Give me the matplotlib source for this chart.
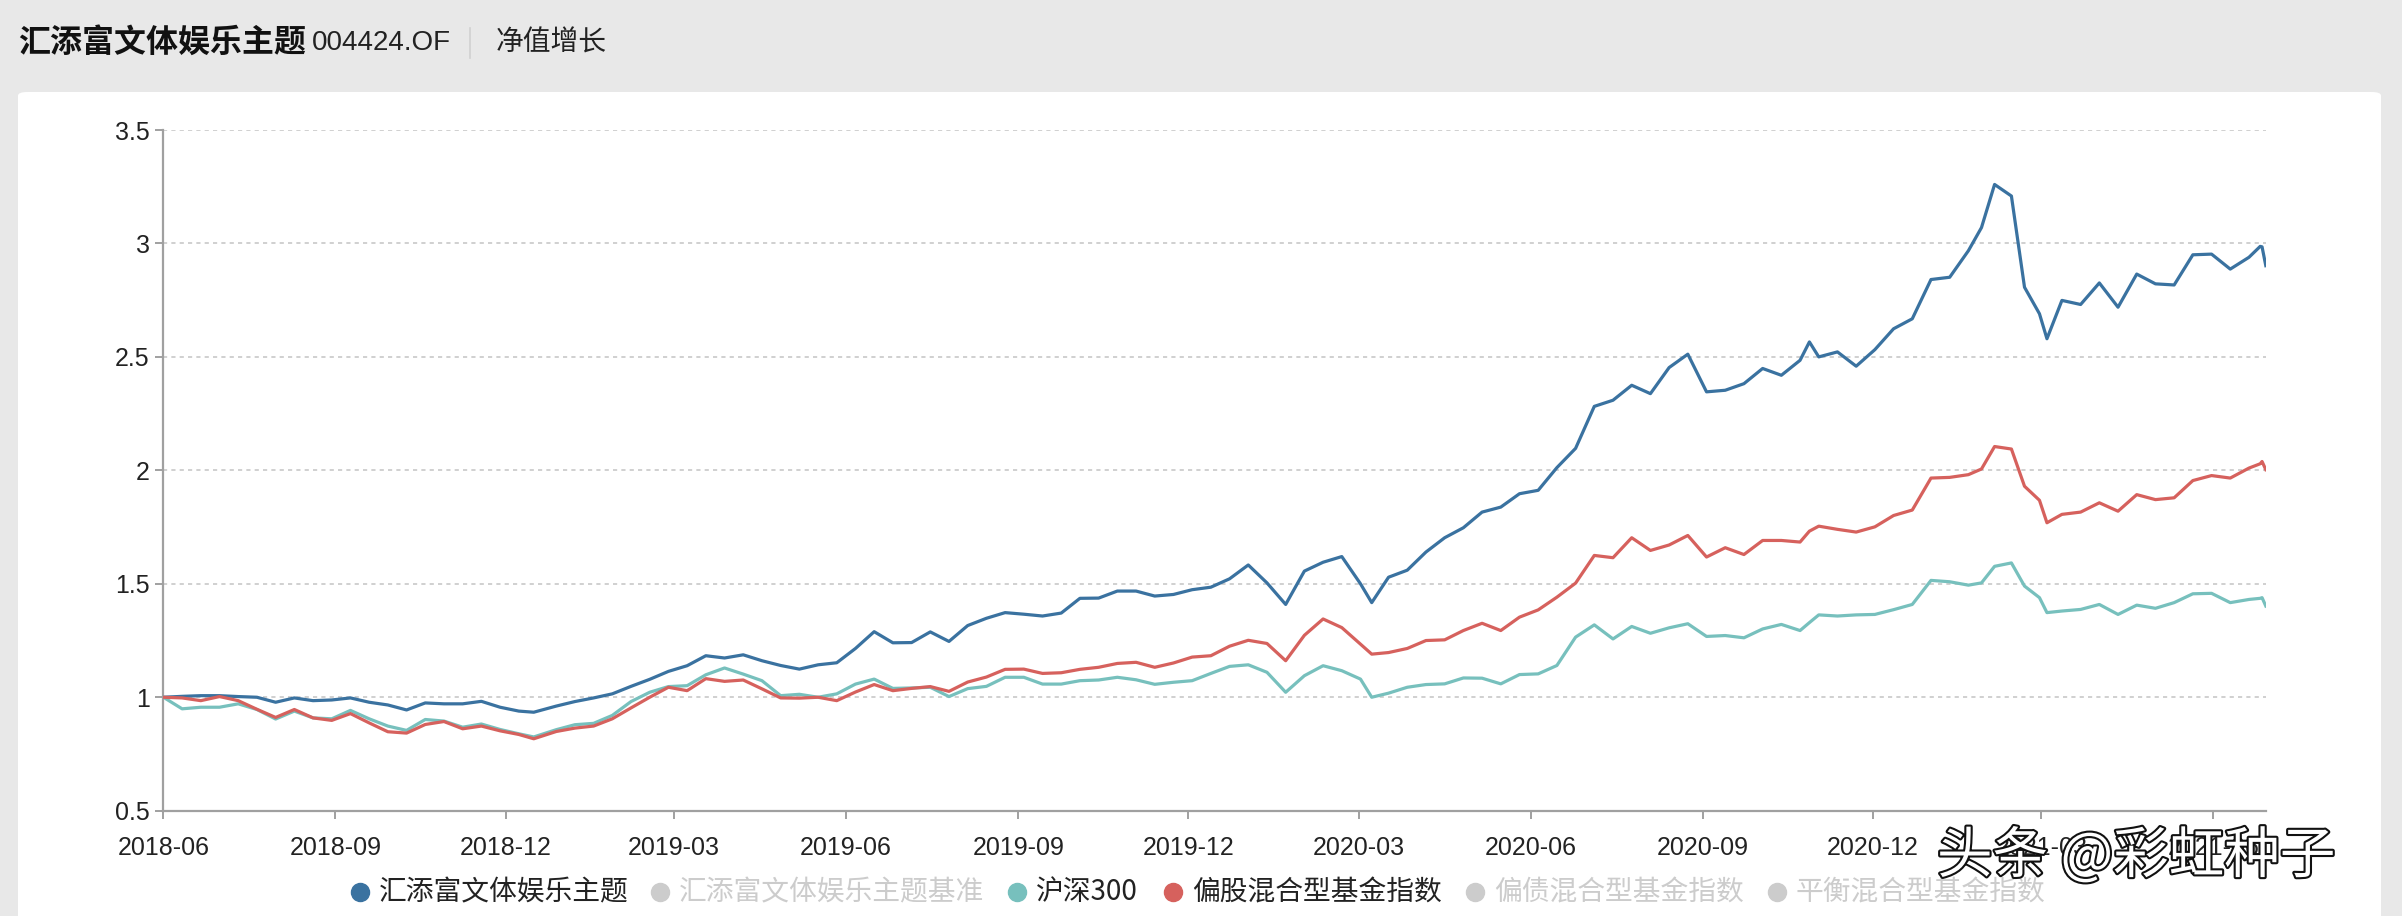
import matplotlib
matplotlib.use("Agg")
import matplotlib.pyplot as plt
import matplotlib.dates as mdates
import matplotlib.patheffects as pe
from matplotlib.patches import FancyBboxPatch
from matplotlib.lines import Line2D
import pandas as pd

plt.rcParams['font.family'] = ['Liberation Sans', 'Noto Sans CJK SC', 'DejaVu Sans']

# net value dates
dates = [
    '2018-06-01', '2018-06-11', '2018-06-21', '2018-07-01', '2018-07-11', '2018-07-21', '2018-07-31', '2018-08-10', '2018-08-20', '2018-08-30',
    '2018-09-09', '2018-09-19', '2018-09-29', '2018-10-09', '2018-10-19', '2018-10-29', '2018-11-08', '2018-11-18', '2018-11-28', '2018-12-08',
    '2018-12-16', '2018-12-28', '2019-01-07', '2019-01-17', '2019-01-27', '2019-02-06', '2019-02-16', '2019-02-26', '2019-03-08', '2019-03-18',
    '2019-03-28', '2019-04-07', '2019-04-17', '2019-04-27', '2019-05-07', '2019-05-17',
    '2019-05-27', '2019-06-06', '2019-06-16', '2019-06-26', '2019-07-06', '2019-07-16', '2019-07-26', '2019-08-05', '2019-08-15', '2019-08-25',
    '2019-09-04', '2019-09-14', '2019-09-24', '2019-10-04', '2019-10-14', '2019-10-24', '2019-11-03', '2019-11-13', '2019-11-23', '2019-12-03',
    '2019-12-13', '2019-12-23', '2020-01-02', '2020-01-12', '2020-01-22', '2020-02-01', '2020-02-11', '2020-02-21', '2020-03-02', '2020-03-08',
    '2020-03-17', '2020-03-27',
    '2020-04-06', '2020-04-16', '2020-04-26', '2020-05-06', '2020-05-16', '2020-05-26', '2020-06-05', '2020-06-15', '2020-06-25', '2020-07-05',
    '2020-07-15', '2020-07-25', '2020-08-04', '2020-08-14', '2020-08-24', '2020-09-03', '2020-09-13', '2020-09-23', '2020-10-03', '2020-10-13', '2020-10-23',
    '2020-10-28', '2020-11-02', '2020-11-12', '2020-11-22', '2020-12-02', '2020-12-12', '2020-12-22', '2021-01-01', '2021-01-11', '2021-01-21',
    '2021-01-28', '2021-02-04', '2021-02-13', '2021-02-20', '2021-02-28', '2021-03-04', '2021-03-12', '2021-03-22', '2021-04-01', '2021-04-11',
    '2021-04-21', '2021-05-01', '2021-05-11', '2021-05-21', '2021-05-31', '2021-06-10', '2021-06-20', '2021-06-26', '2021-06-27', '2021-06-29',
]

# 汇添富文体娱乐主题
fund = [
    1.000, 1.004, 1.007, 1.007, 1.003, 1.000, 0.978, 0.997, 0.985, 0.988,
    0.997, 0.978, 0.966, 0.944, 0.975, 0.971, 0.971, 0.982, 0.956, 0.939,
    0.934, 0.961, 0.981, 0.997, 1.015, 1.048, 1.079, 1.114, 1.139, 1.183,
    1.173, 1.187, 1.161, 1.140, 1.124, 1.143,
    1.152, 1.215, 1.289, 1.240, 1.241, 1.288, 1.246, 1.316, 1.348, 1.373,
    1.366, 1.358, 1.371, 1.436, 1.437, 1.468, 1.468, 1.446, 1.453, 1.474,
    1.485, 1.522, 1.583, 1.504, 1.409, 1.556, 1.595, 1.620, 1.500, 1.417,
    1.529, 1.560,
    1.640, 1.703, 1.747, 1.816, 1.838, 1.897, 1.912, 2.012, 2.097, 2.282,
    2.309, 2.375, 2.338, 2.453, 2.512, 2.346, 2.353, 2.382, 2.449, 2.419, 2.485,
    2.566, 2.500, 2.522, 2.459, 2.532, 2.624, 2.668, 2.841, 2.851, 2.968,
    3.070, 3.260, 3.209, 2.807, 2.690, 2.580, 2.749, 2.731, 2.826, 2.719,
    2.865, 2.822, 2.817, 2.950, 2.953, 2.887, 2.939, 2.987, 2.985, 2.902,
]

# 沪深300
hs300 = [
    1.000, 0.949, 0.956, 0.956, 0.971, 0.946, 0.904, 0.939, 0.909, 0.905,
    0.942, 0.905, 0.873, 0.854, 0.902, 0.895, 0.868, 0.882, 0.858, 0.839,
    0.825, 0.857, 0.879, 0.885, 0.920, 0.981, 1.022, 1.047, 1.051, 1.099,
    1.129, 1.102, 1.073, 1.007, 1.013, 1.000,
    1.015, 1.058, 1.080, 1.039, 1.041, 1.044, 1.003, 1.038, 1.048, 1.088,
    1.088, 1.058, 1.058, 1.073, 1.076, 1.088, 1.077, 1.057, 1.066, 1.073,
    1.105, 1.136, 1.143, 1.110, 1.022, 1.095, 1.139, 1.117, 1.080, 1.000,
    1.018, 1.044,
    1.056, 1.059, 1.085, 1.084, 1.059, 1.100, 1.103, 1.140, 1.265, 1.319,
    1.257, 1.312, 1.282, 1.306, 1.324, 1.268, 1.272, 1.262, 1.301, 1.321, 1.294,
    1.329, 1.363, 1.358, 1.363, 1.365, 1.386, 1.409, 1.515, 1.509, 1.494,
    1.504, 1.577, 1.592, 1.490, 1.439, 1.373, 1.380, 1.387, 1.409, 1.365,
    1.406, 1.392, 1.417, 1.456, 1.458, 1.417, 1.431, 1.436, 1.439, 1.402,
]

# 偏股混合型基金指数
mixed = [
    1.000, 0.997, 0.985, 1.003, 0.985, 0.947, 0.911, 0.946, 0.909, 0.898,
    0.928, 0.887, 0.848, 0.842, 0.880, 0.893, 0.861, 0.873, 0.852, 0.836,
    0.817, 0.849, 0.864, 0.873, 0.905, 0.953, 1.000, 1.044, 1.029, 1.082,
    1.070, 1.076, 1.037, 0.997, 0.996, 1.000,
    0.985, 1.023, 1.056, 1.029, 1.039, 1.047, 1.026, 1.067, 1.089, 1.123,
    1.124, 1.105, 1.108, 1.123, 1.132, 1.149, 1.154, 1.132, 1.151, 1.177,
    1.183, 1.225, 1.251, 1.237, 1.161, 1.273, 1.345, 1.307, 1.234, 1.190,
    1.197, 1.215,
    1.250, 1.253, 1.294, 1.326, 1.294, 1.353, 1.385, 1.441, 1.503, 1.625,
    1.615, 1.703, 1.647, 1.671, 1.713, 1.618, 1.659, 1.629, 1.691, 1.691, 1.684,
    1.732, 1.754, 1.740, 1.728, 1.751, 1.801, 1.825, 1.966, 1.969, 1.981,
    2.006, 2.105, 2.094, 1.930, 1.868, 1.769, 1.806, 1.816, 1.857, 1.820,
    1.893, 1.871, 1.879, 1.955, 1.977, 1.966, 2.010, 2.029, 2.039, 2.003,
]

legend_names = ['汇添富文体娱乐主题', '汇添富文体娱乐主题基准', '沪深300',
                '偏股混合型基金指数', '偏债混合型基金指数', '平衡混合型基金指数']
legend_colors = ['#3a72a0', '#cccccc', '#77c0bd', '#d6615d', '#cccccc', '#cccccc']
legend_text_colors = ['#222222', '#cccccc', '#222222', '#222222', '#cccccc', '#cccccc']

yticks = [0.5, 1, 1.5, 2, 2.5, 3, 3.5]
ytick_labels = ['0.5', '1', '1.5', '2', '2.5', '3', '3.5']

W, H = 2402, 916
x = pd.to_datetime(dates)

fig = plt.figure(figsize=(W / 100, H / 100), dpi=100, facecolor='#e8e8e8')

# white card under the chart
card = FancyBboxPatch((18 / W, -0.05), (2381 - 18) / W, (916 - 92) / H + 0.05,
                      boxstyle='round,pad=0,rounding_size=0.004',
                      transform=fig.transFigure, facecolor='white', edgecolor='none',
                      zorder=-10)
fig.patches.append(card)

# header
fig.text(18 / W, 1 - 43 / H, '汇添富文体娱乐主题', fontsize=23, fontweight='bold',
         color='#111111', va='center', family=['Noto Sans CJK SC'])
fig.text(312 / W, 1 - 43 / H, '004424.OF', fontsize=20, color='#222222', va='center')
fig.add_artist(Line2D([470 / W, 470 / W], [1 - 28 / H, 1 - 58 / H],
                      transform=fig.transFigure, color='#d0d0d0', lw=1.2))
fig.text(496 / W, 1 - 43 / H, '净值增长', fontsize=20, color='#222222', va='center',
         family=['Noto Sans CJK SC'])

ax = fig.add_axes([163.4 / W, 1 - 810.7 / H, (2265.8 - 163.4) / W, (810.7 - 130) / H])
ax.set_zorder(2)
ax.set_facecolor('none')

ax.plot(x, fund, color=legend_colors[0], lw=2.3, solid_joinstyle='round', zorder=3)
ax.plot(x, hs300, color=legend_colors[2], lw=2.3, solid_joinstyle='round', zorder=4)
ax.plot(x, mixed, color=legend_colors[3], lw=2.3, solid_joinstyle='round', zorder=5)

ax.set_xlim(pd.Timestamp('2018-06-01'), pd.Timestamp('2021-06-29'))
ax.set_ylim(0.5, 3.5)
ax.set_yticks(yticks)
ax.set_yticklabels(ytick_labels)
ax.xaxis.set_major_locator(mdates.MonthLocator(bymonth=[3, 6, 9, 12]))
ax.xaxis.set_major_formatter(mdates.DateFormatter('%Y-%m'))

ax.grid(axis='y', color='#c8c8c8', linestyle=(0, (2.5, 2.5)), linewidth=1.2)
ax.grid(axis='x', visible=False)
for s in ['top', 'right']:
    ax.spines[s].set_visible(False)
for s in ['left', 'bottom']:
    ax.spines[s].set_color('#a0a0a0')
    ax.spines[s].set_linewidth(1.6)
ax.tick_params(axis='both', colors='#a0a0a0', labelcolor='#222222', labelsize=18,
               length=6, width=1.4)
ax.tick_params(axis='x', pad=12)
ax.tick_params(axis='y', pad=4)

# legend (manual, so the switched-off series stay grey)
legend_circle_x = [359.6, 659.9, 1017, 1173.4, 1475.4, 1777]
legend_y = 1 - 892 / H
for name, col, tcol, cx in zip(legend_names, legend_colors, legend_text_colors, legend_circle_x):
    fig.add_artist(Line2D([cx / W], [legend_y], marker='o', markersize=13,
                          markerfacecolor=col, markeredgecolor=col, linestyle='none',
                          transform=fig.transFigure, zorder=3))
    fig.text((cx + 19) / W, legend_y, name, fontsize=20, color=tcol, va='center',
             family=['Noto Sans CJK SC'], zorder=3)

# watermark
fig.text(1937 / W, 1 - 857 / H, '头条 @彩虹种子', fontsize=40, color='white',
         va='center', family=['Noto Sans CJK SC'], zorder=10,
         path_effects=[pe.withStroke(linewidth=3, foreground='#111111')])

fig.savefig('out.png', dpi=100, facecolor=fig.get_facecolor())
